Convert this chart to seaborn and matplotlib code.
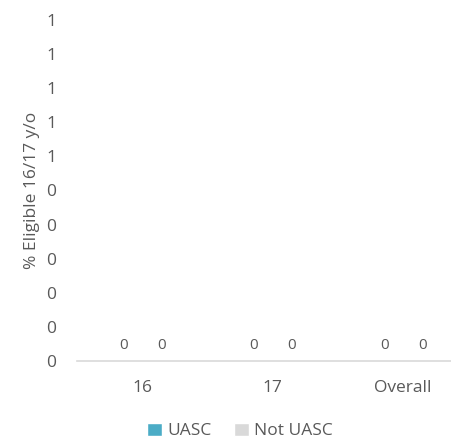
import pandas as pd
import numpy as np
import matplotlib
matplotlib.use("Agg")
import matplotlib.pyplot as plt
import seaborn as sns

# Datos
categorias = ["16", "17", "Overall"]
uasc = [0, 0, 0]
not_uasc = [0, 0, 0]
y_ticks = [0, 0.1, 0.2, 0.3, 0.4, 0.5, 0.6, 0.7, 0.8, 0.9, 1.0]

df = pd.DataFrame({
    "Edad": categorias * 2,
    "Valor": uasc + not_uasc,
    "Grupo": ["UASC"] * 3 + ["Not UASC"] * 3,
})

sns.set_style("white")
plt.rcParams["font.family"] = ["Open Sans", "DejaVu Sans"]
gris = "#595959"

fig = plt.figure(figsize=(4.51, 4.46), dpi=100)
ax = fig.add_axes([77 / 451, 1 - 361 / 446, 1 - 77 / 451, (361 - 20) / 446])

sns.barplot(data=df, x="Edad", y="Valor", hue="Grupo",
            palette={"UASC": "#4BACC6", "Not UASC": "#D9D9D9"},
            saturation=1, width=0.58, ax=ax)

# Etiquetas de valor
for cont in ax.containers:
    ax.bar_label(cont, labels=[f"{v:.0f}" for v in cont.datavalues],
                 padding=6, fontsize=11, color=gris)

ax.set_ylim(0, 1)
ax.set_xlim(-0.5, (451 - 141) / 131)
ax.set_yticks(y_ticks)
ax.set_yticklabels([f"{v:.0f}" for v in y_ticks])
ax.tick_params(axis="y", length=0, pad=15, labelsize=12.5, labelcolor=gris)
ax.tick_params(axis="x", length=0, pad=14, labelsize=12.5, labelcolor=gris)

for s in ["top", "right", "left"]:
    ax.spines[s].set_visible(False)
ax.spines["bottom"].set_color("#D9D9D9")
ax.spines["bottom"].set_linewidth(1.2)

ax.set_xlabel("")
ax.set_ylabel("% Eligible 16/17 y/o", fontsize=12.5, color=gris)
ax.yaxis.set_label_coords(-0.10, 0.5)

ax.legend(loc="center", bbox_to_anchor=(240 / 451, 1 - 431 / 446),
          bbox_transform=fig.transFigure, ncol=2, frameon=False,
          fontsize=12.5, labelcolor=gris, handlelength=0.85, handleheight=0.85,
          handletextpad=0.3, columnspacing=1.3)

fig.savefig("out.png", dpi=100)
